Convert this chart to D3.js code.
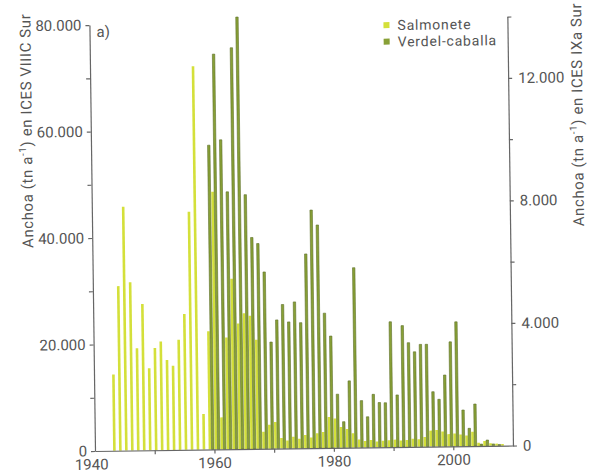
<!DOCTYPE html>
<html>
<head>
<meta charset="utf-8">
<script src="https://cdn.jsdelivr.net/npm/d3@7"></script>
<style>
  body { margin: 0; background: #fff; }
  svg text { font-family: Roboto, "DejaVu Sans", sans-serif; fill: #555; }
  .axis path, .axis line { stroke: #666; stroke-width: 1.2; }
  .axis text { font-size: 15px; fill: #555; }
</style>
</head>
<body>
<script>
// Salmonete, left axis (t), one value per year from 1943
const salmoneteFirstYear = 1943;
const salmonete = [
  14300, 30900, 45800, 31600, 19200, 27500, 15400, 19200, 20400, 16900,
  15800, 20700, 25500, 44700, 72000, 6700, 22200, 48400, 6000, 21000,
  32000, 23600, 25500, 25000, 20500, 3200, 4500, 5000, 2000, 1500,
  2200, 1800, 2500, 2000, 2800, 3000, 5800, 5500, 3900, 3500,
  2700, 1500, 1200, 1400, 1100, 1200, 1300, 1400, 1200, 1300,
  1500, 1400, 1800, 3000, 3100, 2800, 2300, 2400, 2200, 2000,
  2700, 600, 900, 500, 400, 300
];

// Verdel-caballa, right axis (t), one value per year from 1959
const verdelFirstYear = 1959;
const verdel = [
  9930, 12900, 10100, 8400, 13100, 14100, 8300, 6900, 6700, 5770,
  3480, 4200, 4700, 4130, 4780, 4100, 6340, 7770, 7280, 4400,
  3650, 1750, 850, 2180, 5870, 1530, 1000, 1730, 1460, 1450,
  4090, 1700, 3960, 3400, 3100, 3340, 3340, 1790, 1540, 2330,
  3410, 4060, 1180, 580, 1370, 60, 190, 60, 40
];

const leftTicks = [0, 20000, 40000, 60000, 80000];
const leftMinor = [10000, 30000, 50000, 70000];
const rightTicks = [0, 4000, 8000, 12000];
const rightMinor = [2000, 6000, 10000, 14000];
const yearTicks = [1950, 1960, 1970, 1980, 1990, 2000];
const yearLabels = [1940, 1960, 1980, 2000];

const colSalm = "#d4e03a";
const colVerdel = "#88a036";

const fmt = d3.formatLocale({decimal: ",", thousands: ".", grouping: [3], currency: ["", ""]}).format(",d");

const svg = d3.select("body").append("svg")
    .attr("width", 590)
    .attr("height", 475);

// the scanned figure is slightly tilted
const g = svg.append("g").attr("transform", "translate(95,451) rotate(-0.75)");

const x = d3.scaleLinear().domain([1940, 2010]).range([0, 418]);
const yL = d3.scaleLinear().domain([0, 80000]).range([0, -426]);
const yR = d3.scaleLinear().domain([0, 14000]).range([0, -429]);

g.selectAll(".salm").data(salmonete).enter().append("rect")
    .attr("class", "salm")
    .attr("x", (d, i) => x(salmoneteFirstYear + i) + 0.2)
    .attr("width", 2.6)
    .attr("y", d => yL(d))
    .attr("height", d => -yL(d))
    .attr("fill", colSalm);

g.selectAll(".verdel").data(verdel).enter().append("rect")
    .attr("class", "verdel")
    .attr("x", (d, i) => x(verdelFirstYear + i) + 3.1)
    .attr("width", 2.4)
    .attr("y", d => yR(d))
    .attr("height", d => -yR(d))
    .attr("fill", colVerdel)
    .attr("stroke", "#5e6f2a")
    .attr("stroke-width", 0.6);

// left axis
g.append("g").attr("class", "axis")
    .call(d3.axisLeft(yL).tickValues(leftTicks).tickFormat(fmt).tickSize(4).tickPadding(4).tickSizeOuter(0));
g.append("g").attr("class", "axis")
    .call(d3.axisLeft(yL).tickValues(leftMinor).tickFormat("").tickSize(4).tickSizeOuter(0))
    .select(".domain").remove();

// right axis
g.append("g").attr("class", "axis")
    .attr("transform", "translate(" + x(2010) + ",0)")
    .call(d3.axisRight(yR).tickValues(rightTicks).tickFormat(fmt).tickSize(4).tickPadding(6).tickSizeOuter(0));
g.append("g").attr("class", "axis")
    .attr("transform", "translate(" + x(2010) + ",0)")
    .call(d3.axisRight(yR).tickValues(rightMinor).tickFormat("").tickSize(4).tickSizeOuter(0))
    .select(".domain").remove();

// bottom axis
g.append("g").attr("class", "axis")
    .call(d3.axisBottom(x).tickValues(yearTicks).tickFormat("").tickSize(4).tickSizeOuter(0));
const xl = g.append("g").attr("class", "axis")
    .call(d3.axisBottom(x).tickValues(yearLabels).tickFormat(d3.format("d")).tickSize(0).tickPadding(8));
xl.select(".domain").remove();
// first year label sits a bit left of the corner
xl.selectAll(".tick text").filter(d => d === 1940).attr("x", -4);

// axis titles
function title(sel, px, py, region) {
    const t = sel.append("text")
        .attr("transform", "translate(" + px + "," + py + ") rotate(-90)")
        .attr("text-anchor", "middle")
        .style("font-size", "15px")
        .style("letter-spacing", "0.6px");
    t.append("tspan").text("Anchoa (tn a");
    t.append("tspan").attr("dy", -6).style("font-size", "10px").text("-1");
    t.append("tspan").attr("dy", 6).text(") en ICES " + region + " Sur");
}
title(g, -59, -321, "VIIIC");
title(g, 492, -330, "IXa");

g.append("text")
    .attr("x", 7)
    .attr("y", -414)
    .style("font-size", "15px")
    .text("a)");

// legend
const legend = [["Salmonete", colSalm], ["Verdel-caballa", colVerdel]];
const lg = g.append("g").attr("transform", "translate(294,-425)");
legend.forEach((d, i) => {
    lg.append("rect")
        .attr("x", 0).attr("y", i * 16.5)
        .attr("width", 6).attr("height", 6)
        .attr("fill", d[1]);
    lg.append("text")
        .attr("x", 14).attr("y", i * 16.5 + 8)
        .style("font-size", "14px")
        .style("letter-spacing", "0.8px")
        .text(d[0]);
});
</script>
</body>
</html>
